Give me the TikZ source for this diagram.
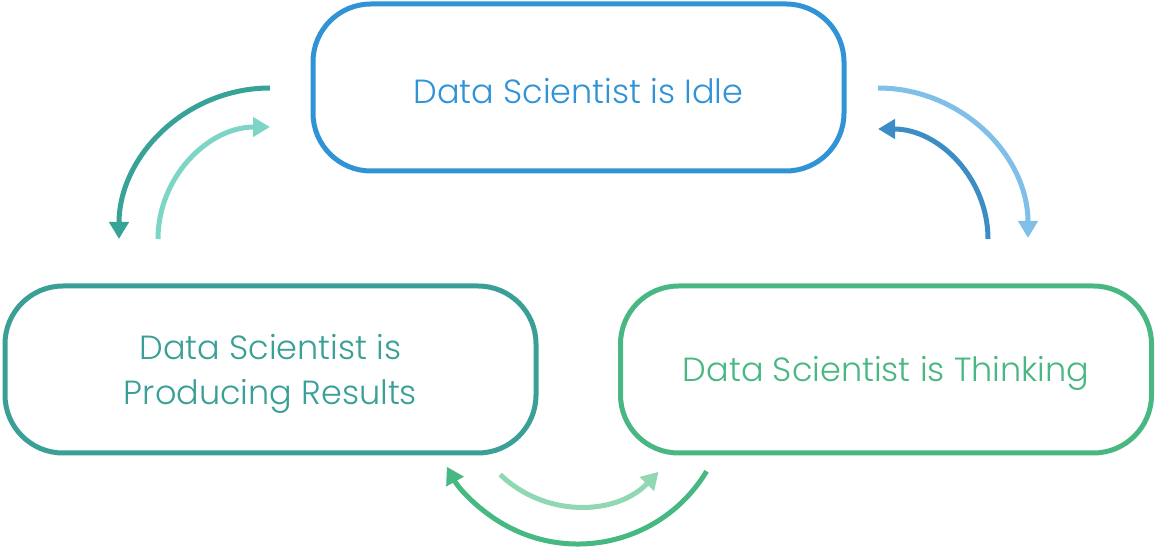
\documentclass[tikz,border=0pt]{standalone}
\usepackage{fontspec}
\setmainfont{Poppins}[UprightFont=* Light]
\usetikzlibrary{arrows.meta}
\definecolor{idleblue}{HTML}{2F93D5}
\definecolor{resteal}{HTML}{3A9F96}
\definecolor{thinkgreen}{HTML}{48B782}
\definecolor{tealdark}{HTML}{37A398}
\definecolor{teallight}{HTML}{7DD5C6}
\definecolor{bluelight}{HTML}{7FBFE8}
\definecolor{bluedark}{HTML}{3C8DC5}
\definecolor{greenlight}{HTML}{90D7B4}
\definecolor{greendark}{HTML}{46B882}
\tikzset{statebox/.style={draw, line width=5pt, rounded corners=58pt,
  minimum width=531pt, minimum height=167pt},
  statetext/.style={align=center, yshift=-4pt,
  font=\fontsize{33.5pt}{45pt}\selectfont},
  cyc/.style={line width=5pt, -{Triangle[length=17pt,width=19pt]}}}

\begin{document}
\begin{tikzpicture}[x=1pt,y=1pt]
  \useasboundingbox (0,0) rectangle (1156,551);
  \node [statebox, idleblue, label={[statetext, text=idleblue]center:Data Scientist is Idle}] (idle) at (578.5,463.5) {};
  \node [statebox, resteal, label={[statetext, text=resteal]center:{Data Scientist is\\Producing Results}}] (results) at (270.5,181.5) {};
  \node [statebox, thinkgreen, label={[statetext, text=thinkgreen]center:Data Scientist is Thinking}] (thinking) at (886,181.5) {};

  % left pair
  \coordinate (lo) at (270,463);
  \coordinate (li) at (158,312);
  \draw [cyc, tealdark] (lo) arc (90:180:151);
  \draw [cyc, teallight] (li) arc (180:90:112);
  % right pair
  \coordinate (ro) at (878,463);
  \coordinate (ri) at (988,312);
  \draw [cyc, bluelight] (ro) arc (90:0:150);
  \draw [cyc, bluedark] (ri) arc (0:90:110);
  % bottom pair
  \coordinate (bc) at (578,157);
  \draw [cyc, greenlight] (bc) ++(-134:112) arc (-134:-44:112);
  \draw [cyc, greendark] (bc) ++(-31:150) arc (-31:-151:150);
\end{tikzpicture}
\end{document}
